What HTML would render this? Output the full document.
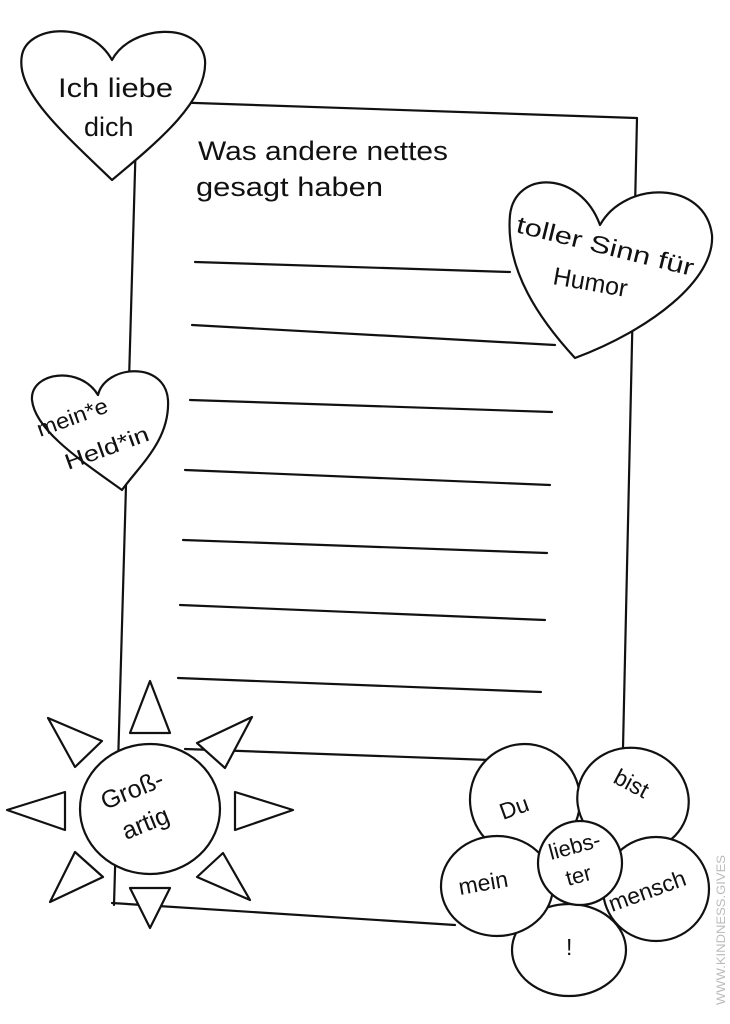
<!DOCTYPE html>
<html><head><meta charset="utf-8"><style>
html,body{margin:0;padding:0;background:#fff;}
svg{display:block}
text{font-family:"Liberation Sans","DejaVu Sans",sans-serif;fill:#111;}
</style></head><body>
<svg width="730" height="1024" viewBox="0 0 730 1024" xmlns="http://www.w3.org/2000/svg">
<g stroke="#111" stroke-width="2.2" fill="none" stroke-linecap="round" stroke-linejoin="round">
<polyline points="137,101 637,118 623,748"/>
<line x1="137" y1="101" x2="114" y2="905"/>
<line x1="112" y1="903" x2="455" y2="925"/>
<line x1="185" y1="749" x2="490" y2="760"/>
<line x1="195" y1="262" x2="510" y2="272"/>
<line x1="192" y1="325" x2="555" y2="345"/>
<line x1="190" y1="400" x2="552" y2="412"/>
<line x1="185" y1="470" x2="550" y2="485"/>
<line x1="183" y1="540" x2="547" y2="553"/>
<line x1="180" y1="605" x2="545" y2="620"/>
<line x1="178" y1="678" x2="541" y2="692"/>
</g>
<g stroke="#111" stroke-width="2.2" fill="#fff" stroke-linejoin="round">
<path d="M112,180 C60,130 15,90 22,55 C28,25 90,20 112,60 C130,25 200,20 205,60 C208,100 160,140 112,180 Z"/>
<path d="M575,358 C540,320 505,270 510,215 C515,170 580,170 600,225 C625,180 705,180 712,235 C715,280 650,330 575,358 Z"/>
<path d="M122,490 C80,460 35,430 32,400 C30,372 80,365 98,395 C105,365 165,360 168,400 C170,440 140,465 122,490 Z"/>
</g>
<text x="58" y="97" font-size="27" textLength="115" lengthAdjust="spacingAndGlyphs">Ich liebe</text>
<text x="84" y="136" font-size="27">dich</text>
<text x="198" y="160" font-size="27" textLength="250" lengthAdjust="spacingAndGlyphs">Was andere nettes</text>
<text x="196" y="196" font-size="27" textLength="187" lengthAdjust="spacingAndGlyphs">gesagt haben</text>
<text transform="translate(515,232) rotate(14)" font-size="24" textLength="182" lengthAdjust="spacingAndGlyphs">toller Sinn für</text>
<text transform="translate(552,284) rotate(10)" font-size="25">Humor</text>
<text transform="translate(40,437) rotate(-20)" font-size="22" textLength="74" lengthAdjust="spacingAndGlyphs">mein*e</text>
<text transform="translate(68,470) rotate(-20)" font-size="22" textLength="88" lengthAdjust="spacingAndGlyphs">Held*in</text>
<g stroke="#111" stroke-width="2.2" fill="#fff" stroke-linejoin="round">
<ellipse cx="150" cy="809" rx="70" ry="65"/>
<polygon points="150,681 130,733 170,733"/>
<polygon points="150,928 130,888 170,888"/>
<polygon points="7,810 65,792 65,830"/>
<polygon points="293,810 235,792 235,830"/>
<polygon points="48,718 102,741 75,767"/>
<polygon points="252,717 197,743 225,768"/>
<polygon points="50,902 75,852 103,877"/>
<polygon points="250,900 197,877 223,853"/>
</g>
<text transform="translate(105,810) rotate(-22)" font-size="25">Groß-</text>
<text transform="translate(126,840) rotate(-22)" font-size="25">artig</text>
<g stroke="#111" stroke-width="2.2" fill="#fff">
<ellipse cx="569" cy="950" rx="57" ry="46"/>
<ellipse cx="525" cy="800" rx="55" ry="56" transform="rotate(-10 525 800)"/>
<ellipse cx="633" cy="800" rx="56" ry="52" transform="rotate(15 633 800)"/>
<ellipse cx="497" cy="886" rx="56" ry="50"/>
<ellipse cx="656" cy="889" rx="53" ry="52"/>
<circle cx="580" cy="863" r="42"/>
</g>
<text transform="translate(503,820) rotate(-20)" font-size="23">Du</text>
<text transform="translate(612,782) rotate(28)" font-size="23">bist</text>
<text transform="translate(460,895) rotate(-10)" font-size="23">mein</text>
<text transform="translate(612,912) rotate(-20)" font-size="23">mensch</text>
<text x="566" y="955" font-size="23">!</text>
<text transform="translate(551,860) rotate(-15)" font-size="22">liebs-</text>
<text transform="translate(568,886) rotate(-15)" font-size="22">ter</text>
<text transform="translate(725,1005) rotate(-90)" font-size="12" textLength="150" lengthAdjust="spacingAndGlyphs" style="fill:#bbb">WWW.KINDNESS.GIVES</text>
</svg>
</body></html>
